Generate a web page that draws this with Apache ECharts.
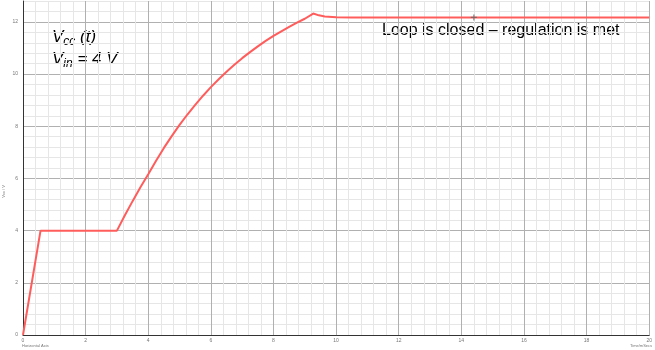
<!DOCTYPE html>
<html>
<head>
<meta charset="utf-8">
<script src="https://cdn.jsdelivr.net/npm/echarts@6/dist/echarts.min.js"></script>
<style>
  html, body { margin: 0; padding: 0; background: #fff; }
  #chart { width: 655px; height: 350px; }
</style>
</head>
<body>
<div id="chart"></div>
<script>
// Vcc(t) waveform, time in ms, voltage in V
const timeMs = [0, 0.56, 3.0, 3.25, 3.5, 3.75, 4.0, 4.25, 4.5, 4.75, 5.0, 5.25, 5.5, 5.75, 6.0, 6.25, 6.5, 6.75, 7.0, 7.25, 7.5, 7.75, 8.0, 8.25, 8.5, 8.75, 9.0, 9.27, 9.45, 9.64, 10.0, 10.5, 20.0]
const vcc = [0, 4, 4, 4.58, 5.13, 5.66, 6.16, 6.68, 7.17, 7.62, 8.05, 8.45, 8.82, 9.17, 9.5, 9.8, 10.09, 10.36, 10.61, 10.84, 11.06, 11.27, 11.46, 11.64, 11.81, 11.97, 12.12, 12.32, 12.25, 12.21, 12.18, 12.17, 12.17]
const cursorPoint = [[14.4, 12.17]]
const yTicks = [0, 2, 4, 6, 8, 10, 12]

const chart = echarts.init(document.getElementById('chart'))

const isMajor = (v) => Math.abs(v / 2 - Math.round(v / 2)) < 1e-6
// every 5th line (each 2 units) is a major line
const gridColors = ['#b0b0b0', '#e6e6e6', '#e6e6e6', '#e6e6e6', '#e6e6e6']

const option = {
  animation: false,
  grid: { left: 23, right: 2, top: 1, bottom: 15 },
  xAxis: {
    type: 'value',
    min: 0,
    max: 20,
    interval: 0.4,
    axisLine: { lineStyle: { color: '#333', width: 1 } },
    axisTick: { show: false },
    axisLabel: {
      fontSize: 5,
      color: '#777',
      margin: 3,
      formatter: (v) => (isMajor(v) ? String(Math.round(v)) : '')
    },
    splitLine: { show: true, lineStyle: { color: gridColors, width: 1 } }
  },
  yAxis: {
    type: 'value',
    min: 0,
    max: 12.8,
    interval: 0.4,
    axisLine: { show: true, lineStyle: { color: '#333', width: 1 } },
    axisTick: { show: false },
    axisLabel: {
      fontSize: 5,
      color: '#777',
      margin: 5,
      formatter: (v) => (yTicks.some(t => Math.abs(t - v) < 1e-6) ? String(Math.round(v)) : '')
    },
    splitLine: { show: true, lineStyle: { color: gridColors, width: 1 } }
  },
  series: [
    {
      type: 'line',
      data: timeMs.map((t, i) => [t, vcc[i]]),
      symbol: 'none',
      lineStyle: { color: '#ff5c5c', width: 2 }
    },
    {
      type: 'scatter',
      data: cursorPoint,
      symbol: 'path://M4,0H6V4H10V6H6V10H4V6H0V4H4Z',
      symbolSize: 6,
      itemStyle: { color: '#666' },
      z: 5
    }
  ],
  graphic: [
    {
      type: 'text',
      left: 52,
      top: 29,
      style: {
        text: '{v|V}{s|cc}{v| (t)}',
        rich: {
          v: { fontSize: 17, fontStyle: 'italic', fontFamily: 'Liberation Sans', fill: '#000' },
          s: { fontSize: 12, fontStyle: 'italic', fontFamily: 'Liberation Sans', fill: '#000', padding: [8, 0, 0, 0] }
        }
      }
    },
    {
      type: 'text',
      left: 52,
      top: 51,
      style: {
        text: '{v|V}{s|in}{v| = 4 V}',
        rich: {
          v: { fontSize: 17, fontStyle: 'italic', fontFamily: 'Liberation Sans', fill: '#000' },
          s: { fontSize: 12, fontStyle: 'italic', fontFamily: 'Liberation Sans', fill: '#000', padding: [8, 0, 0, 0] }
        }
      }
    },
    {
      type: 'text',
      left: 382,
      top: 23,
      style: {
        text: 'Loop is closed \u2013 regulation is met',
        fontSize: 16,
        fontFamily: 'Liberation Sans',
        fill: '#000'
      }
    },
    {
      type: 'text',
      left: 2,
      top: 185,
      rotation: Math.PI / 2,
      style: { text: 'Vcc / V', fontSize: 4, fill: '#777' }
    },
    {
      type: 'text',
      left: 22,
      top: 344,
      style: { text: 'Horizontal Axis', fontSize: 4, fill: '#777' }
    },
    {
      type: 'text',
      left: 630,
      top: 344,
      style: { text: 'Time/mSecs', fontSize: 4, fill: '#777' }
    }
  ]
}

chart.setOption(option)
</script>
</body>
</html>
